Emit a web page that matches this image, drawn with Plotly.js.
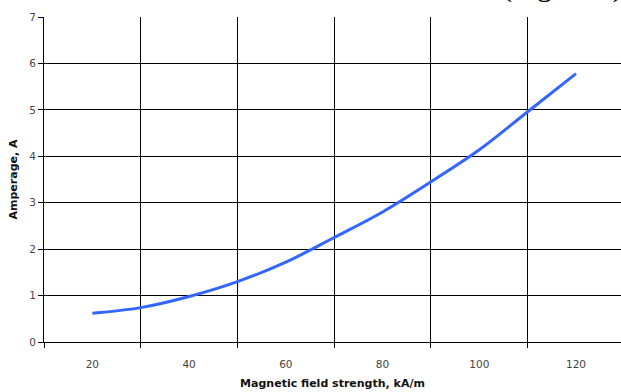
<!DOCTYPE html>
<html>
<head>
<meta charset="utf-8">
<script src="https://cdn.plot.ly/plotly-3.0.1.min.js"></script>
<style>html,body{margin:0;padding:0;background:#fff;}#chart{width:621px;height:392px;}</style>
</head>
<body>
<div id="chart"></div>
<script>
// Data
const fieldStrength = [20, 30, 40, 50, 60, 70, 80, 90, 100, 110, 120];
const amperage = [0.62, 0.74, 0.98, 1.30, 1.72, 2.25, 2.80, 3.45, 4.14, 4.96, 5.78];
const xLabelVals = [20, 40, 60, 80, 100, 120];
const xGridVals = [10, 30, 50, 70, 90, 110, 130];
const yTickVals = [0, 1, 2, 3, 4, 5, 6, 7];

const tickFont = {family: 'DejaVu Sans, sans-serif', size: 10.5, color: '#444'};
const titleFont = {family: 'DejaVu Sans, sans-serif', size: 11, color: '#111', weight: 'bold'};

const trace = {
  x: fieldStrength,
  y: amperage,
  type: 'scatter',
  mode: 'lines',
  line: {color: '#3366ff', width: 3, shape: 'spline', smoothing: 1},
  hoverinfo: 'skip'
};

const layout = {
  width: 621,
  height: 392,
  margin: {l: 44, r: 0, t: 17, b: 50},
  paper_bgcolor: '#ffffff',
  plot_bgcolor: '#ffffff',
  showlegend: false,
  xaxis: {
    range: [10, 129.3],
    tickmode: 'array',
    tickvals: xLabelVals,
    ticks: '',
    showgrid: false,
    zeroline: false,
    showline: true,
    linecolor: '#000',
    linewidth: 1,
    tickfont: tickFont,
    ticklabelstandoff: 12,
    minor: {
      tickmode: 'array',
      tickvals: xGridVals,
      ticks: 'outside',
      ticklen: 5,
      tickcolor: '#000',
      tickwidth: 1,
      showgrid: true,
      gridcolor: '#000',
      gridwidth: 1
    },
    title: {text: 'Magnetic field strength, kA/m', font: titleFont, standoff: 10}
  },
  yaxis: {
    range: [0, 7],
    tickmode: 'array',
    tickvals: yTickVals,
    ticks: 'outside',
    ticklen: 5,
    tickcolor: '#000',
    showgrid: true,
    gridcolor: '#000',
    gridwidth: 1,
    zeroline: false,
    showline: true,
    linecolor: '#000',
    linewidth: 1,
    tickfont: tickFont,
    title: {text: 'Amperage, A', font: titleFont, standoff: 9}
  },
  annotations: [{
    text: '(Figure 1), a',
    xref: 'paper', yref: 'paper',
    x: 0.79, y: 1, xanchor: 'left', yanchor: 'bottom',
    yshift: 12,
    showarrow: false,
    font: {family: 'Liberation Serif, serif', size: 30, color: '#000'}
  }]
};

Plotly.newPlot('chart', [trace], layout, {staticPlot: true, displayModeBar: false});
</script>
</body>
</html>
